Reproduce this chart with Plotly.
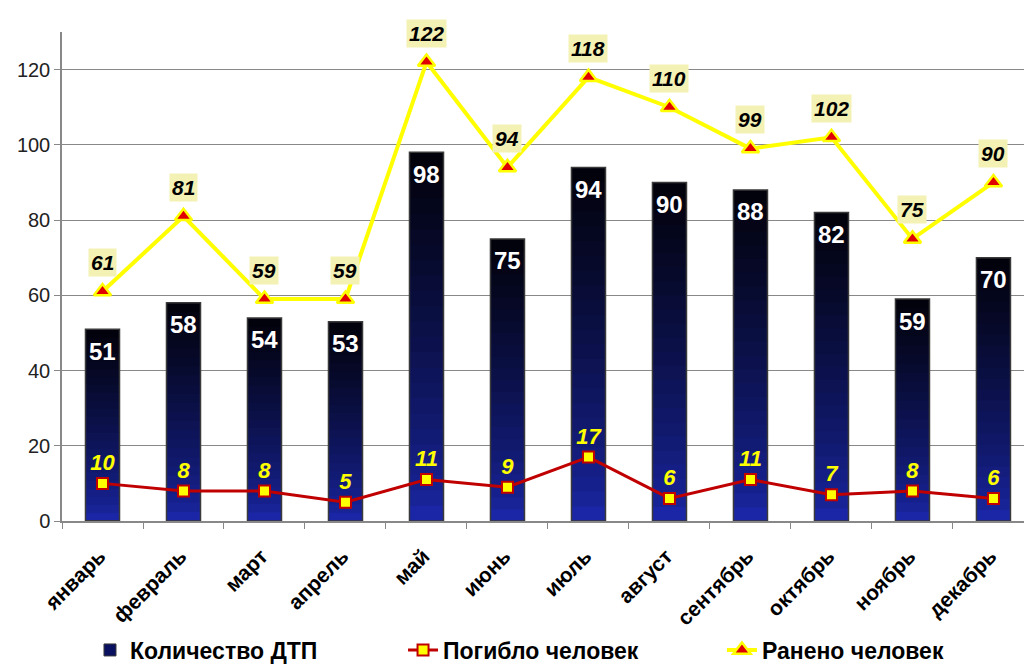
import plotly.graph_objects as go

months = ["январь", "февраль", "март", "апрель", "май", "июнь", "июль",
          "август", "сентябрь", "октябрь", "ноябрь", "декабрь"]
dtp = [51, 58, 54, 53, 98, 75, 94, 90, 88, 82, 59, 70]
killed = [10, 8, 8, 5, 11, 9, 17, 6, 11, 7, 8, 6]
injured = [61, 81, 59, 59, 122, 94, 118, 110, 99, 102, 75, 90]

FONT = "Liberation Sans, Arial, sans-serif"
fig = go.Figure()

# gradient bars: overlapping layers, each from a fraction of the bar height to its top
N = 24
c_bottom = (26, 38, 165)
c_top = (2, 2, 12)
for k in range(N):
    t = k / (N - 1)
    tt = min(1.0, t ** 0.75)
    col = tuple(int(round(c_bottom[i] + (c_top[i] - c_bottom[i]) * tt)) for i in range(3))
    fig.add_trace(go.Bar(
        x=months, y=[v * (1 - k / N) for v in dtp], base=[v * k / N for v in dtp],
        marker=dict(color="rgb(%d,%d,%d)" % col, line=dict(width=0)),
        width=0.42, showlegend=False, hoverinfo="skip"))

# outline
fig.add_trace(go.Bar(
    x=months, y=dtp, base=[0] * len(dtp), width=0.42, name="Количество ДТП",
    marker=dict(color="rgba(0,0,0,0)", line=dict(color="#3a3a3a", width=1.5)),
    showlegend=False))
# legend entry for bars
fig.add_trace(go.Bar(
    x=[months[0]], y=[0], name="Количество ДТП", width=0.42,
    marker=dict(color="#0a1060", line=dict(color="#3a3a3a", width=1)),
    showlegend=True, legend="legend", hoverinfo="skip"))

# killed line
fig.add_trace(go.Scatter(
    x=months, y=killed, mode="lines+markers+text", name="Погибло человек",
    text=[str(v) for v in killed], textposition="top center",
    textfont=dict(family=FONT, size=22, color="#ffff00", weight="bold", style="italic"),
    line=dict(color="#c00000", width=3),
    marker=dict(symbol="square", size=11, color="#ffff00",
                line=dict(color="#c00000", width=2)),
    legend="legend2"))

# injured line
fig.add_trace(go.Scatter(
    x=months, y=injured, mode="lines+markers", name="Ранено человек",
    line=dict(color="#ffff00", width=4),
    marker=dict(symbol="triangle-up", size=15, color="#e00000",
                line=dict(color="#ffff00", width=2.5)),
    legend="legend3"))

# bar value labels
for m, v in zip(months, dtp):
    fig.add_annotation(
        x=m, y=v, text="<b>%d</b>" % v, showarrow=False, yshift=-22,
        font=dict(family=FONT, size=24, color="white"))

# injured value labels
for m, v in zip(months, injured):
    fig.add_annotation(
        x=m, y=v, text="<b><i>%d</i></b>" % v, showarrow=False, yshift=29,
        font=dict(family=FONT, size=21, color="black"),
        bgcolor="#f4f1b4", borderpad=2)

leg_common = dict(orientation="h", y=-0.2638, yanchor="middle", xanchor="left",
                  itemwidth=30, bgcolor="rgba(0,0,0,0)",
                  font=dict(family=FONT, size=23, color="black", weight="bold"))

fig.update_layout(
    barmode="overlay",
    bargap=0.58,
    width=1024, height=664,
    margin=dict(l=62, r=0, t=32, b=143, autoexpand=False),
    paper_bgcolor="white", plot_bgcolor="white",
    font=dict(family=FONT, color="black"),
    legend=dict(x=0.0291, **leg_common),
    legend2=dict(x=0.3545, **leg_common),
    legend3=dict(x=0.686, **leg_common),
    xaxis=dict(
        type="category", tickangle=-45, tickson="boundaries",
        range=[-0.5, 11.377],
        ticks="outside", ticklen=6, tickcolor="#888", automargin=False,
        ticklabelshift=-3, ticklabelstandoff=13,
        showline=True, linecolor="#888", linewidth=1.5, showgrid=False,
        tickfont=dict(family=FONT, size=21, color="black", weight="bold")),
    yaxis=dict(
        range=[0, 130], tickvals=[0, 20, 40, 60, 80, 100, 120],
        ticks="outside", ticklen=6, tickcolor="#888", automargin=False,
        showline=True, linecolor="#888", linewidth=1.5,
        showgrid=True, gridcolor="#888", gridwidth=1.2, zeroline=False,
        tickfont=dict(family=FONT, size=20, color="#222")),
)

fig.write_html("out.html", config={"displayModeBar": False},
               post_script="document.body.style.margin='0';document.body.style.overflow='hidden';")
